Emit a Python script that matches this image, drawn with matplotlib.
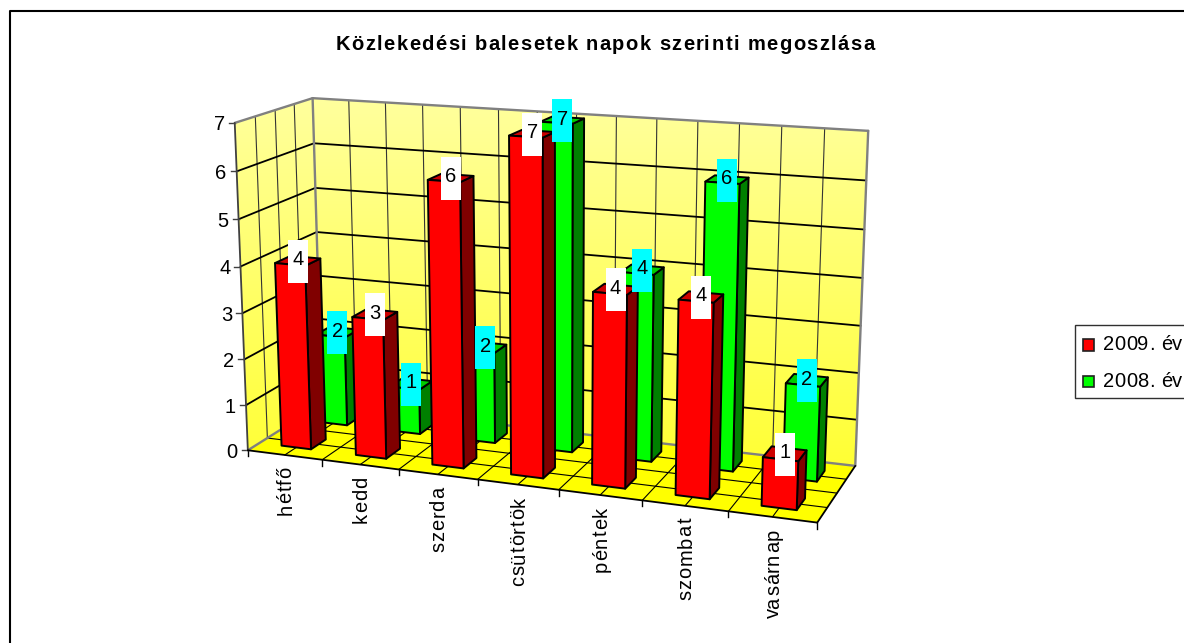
import numpy as np
import matplotlib
matplotlib.use("Agg")
import matplotlib.pyplot as plt
from matplotlib.patches import Polygon, Rectangle
from matplotlib.text import Text
from matplotlib.transforms import Bbox

# ------------------------- Data ------------------------- #
title = "Közlekedési balesetek napok szerinti megoszlása"
days = ["hétfő", "kedd", "szerda", "csütörtök", "péntek", "szombat", "vasárnap"]
values_2009 = [4, 3, 6, 7, 4, 4, 1]
values_2008 = [2, 1, 2, 7, 4, 6, 2]
series_names = ["2009. év", "2008. év"]
y_ticks = [0, 1, 2, 3, 4, 5, 6, 7]

plt.rcParams["font.family"] = ["Liberation Sans", "DejaVu Sans"]

W, H = 1184, 643
fig = plt.figure(figsize=(W / 100, H / 100), dpi=100)
ax = fig.add_axes([0, 0, 1, 1])
ax.set_xlim(0, W)
ax.set_ylim(H, 0)
ax.axis("off")

# ------------------------- 3D projection ------------------------- #
# (category, depth, value) -> position in the picture, used to fit the camera
n_cat = len(days)
n_depth = 2
z_max = y_ticks[-1]
calib_3d = [(0, 0, 0), (1, 0, 0), (2, 0, 0), (3, 0, 0), (4, 0, 0), (5, 0, 0), (6, 0, 0), (7, 0, 0),
            (0, 2, 0), (7, 2, 0), (0, 0, 7), (0, 2, 7), (7, 2, 7),
            (3.3, .3, 0), (3.3, .3, 7), (2.3, .3, 0), (2.3, .3, 6), (5.3, .3, 0), (5.3, .3, 4),
            (6.3, .3, 0), (6.3, .3, 1), (.3, .3, 0), (.3, .3, 4), (5.3, 1.3, 6), (6.3, 1.3, 2)]
calib_px = [(248, 449.5), (322, 459), (398, 469.3), (477.7, 480), (559, 490), (643, 501.7),
            (728.7, 511.7), (817, 523.5),
            (322, 405), (855, 465), (235, 122.7), (312.7, 97.3), (869, 130.7),
            (510.7, 474.3), (509, 135), (432.7, 465), (427, 181), (675.7, 493.3), (677.3, 299.3),
            (761.7, 505), (764, 456.7), (281, 445.7), (276, 263), (705, 183), (785, 383.3)]


def fit_camera(pts3, pts2):
    rows, rhs = [], []
    for (x, y, z), (u, v) in zip(pts3, pts2):
        rows.append([x, y, z, 1, 0, 0, 0, 0, -u * x, -u * y, -u * z])
        rows.append([0, 0, 0, 0, x, y, z, 1, -v * x, -v * y, -v * z])
        rhs += [u, v]
    p = np.linalg.lstsq(np.array(rows, float), np.array(rhs, float), rcond=None)[0]
    return np.append(p, 1).reshape(3, 4)


CAM = fit_camera(calib_3d, calib_px)


def proj(x, y, z):
    u, v, w = CAM @ np.array([x, y, z, 1.0])
    return u / w, v / w


def line3(a, b, color="black", lw=1.0, zorder=3):
    pa, pb = proj(*a), proj(*b)
    ax.plot([pa[0], pb[0]], [pa[1], pb[1]], color=color, lw=lw, zorder=zorder,
            solid_capstyle="round")


def face(points, color, zorder):
    ax.add_patch(Polygon([proj(*p) for p in points], closed=True, facecolor=color,
                         edgecolor="black", lw=1.4, joinstyle="round", zorder=zorder))


# ------------------------- Letter spaced text ------------------------- #
class SpacedText(Text):
    """One text artist that draws its string with extra room between the letters."""

    def __init__(self, x, y, text, spacing=0.0, **kw):
        super().__init__(x, y, text, ha="left", va="baseline", rotation_mode="anchor", **kw)
        self.spacing = spacing

    def _width(self, renderer, s):
        prop = self.get_fontproperties()
        return (renderer.get_text_width_height_descent(s + ".", prop, False)[0]
                - renderer.get_text_width_height_descent(".", prop, False)[0])

    def total_length(self, renderer):
        full = self.get_text()
        return self._width(renderer, full) + self.spacing * (len(full) - 1)

    def get_window_extent(self, renderer=None, dpi=None):
        bb = super().get_window_extent(renderer, dpi)
        extra = self.spacing * (len(self.get_text()) - 1)
        if self.get_rotation() == 90:
            return Bbox.from_extents(bb.x0, bb.y0, bb.x1, bb.y1 + extra)
        return Bbox.from_extents(bb.x0, bb.y0, bb.x1 + extra, bb.y1)

    def draw(self, renderer):
        full = self.get_text()
        x0, y0 = self.get_position()
        up = self.get_rotation() == 90
        for k, ch in enumerate(full):
            off = self._width(renderer, full[:k]) + self.spacing * k
            self.set_text(ch)
            self.set_position((x0, y0 - off) if up else (x0 + off, y0))
            super().draw(renderer)
        self.set_text(full)
        self.set_position((x0, y0))


def spaced(x, y, s, spacing, align="left", **kw):
    # the anchor is turned into the start of the string, so the extent stays where the text is
    t = SpacedText(x, y, s, spacing=spacing, color="black", **kw)
    ax.add_artist(t)
    length = t.total_length(fig.canvas.get_renderer())
    if align == "center":
        t.set_position((x - length / 2, y))
    elif align == "top":
        t.set_position((x, y + length))
    return t


# ------------------------- Walls and floor ------------------------- #
back_wall = [(0, n_depth, 0), (n_cat, n_depth, 0), (n_cat, n_depth, z_max), (0, n_depth, z_max)]
side_wall = [(0, 0, 0), (0, n_depth, 0), (0, n_depth, z_max), (0, 0, z_max)]
floor = [(0, 0, 0), (n_cat, 0, 0), (n_cat, n_depth, 0), (0, n_depth, 0)]

grad = np.zeros((256, 1, 3))
grad[:, 0, 0] = 1
grad[:, 0, 1] = 1
grad[:, 0, 2] = np.linspace(0.62, 0.2, 256)
for wall in (back_wall, side_wall):
    im = ax.imshow(grad, extent=(220, 880, 470, 95), aspect="auto", zorder=1)
    clip = Polygon([proj(*p) for p in wall], closed=True, transform=ax.transData)
    im.set_clip_path(clip)
ax.set_xlim(0, W)
ax.set_ylim(H, 0)
ax.add_patch(Polygon([proj(*p) for p in floor], closed=True, facecolor="#FFFF00",
                     edgecolor="none", zorder=1))

# gridlines: every half category, every half depth slot, every value
for x in np.arange(0.5, n_cat, 0.5):
    line3((x, n_depth, 0), (x, n_depth, z_max), color="#333333", lw=0.8)
    line3((x, 0, 0), (x, n_depth, 0), lw=0.8)
for d in np.arange(0.5, n_depth, 0.5):
    line3((0, d, 0), (0, d, z_max), color="#333333", lw=0.8)
    line3((0, d, 0), (n_cat, d, 0), lw=0.8)
for v in y_ticks[1:-1]:
    line3((0, 0, v), (0, n_depth, v), lw=1.3)
    line3((0, n_depth, v), (n_cat, n_depth, v), lw=1.3)

# wall outlines
grey = "#808080"
for a, b in [((0, 0, z_max), (0, n_depth, z_max)),
             ((0, n_depth, z_max), (n_cat, n_depth, z_max)),
             ((0, n_depth, 0), (0, n_depth, z_max)),
             ((n_cat, n_depth, 0), (n_cat, n_depth, z_max)),
             ((0, 0, 0), (0, n_depth, 0)),
             ((0, n_depth, 0), (n_cat, n_depth, 0))]:
    line3(a, b, color=grey, lw=1.7, zorder=3.5)
line3((0, 0, 0), (0, 0, z_max), color="#404040", lw=1.3, zorder=3.5)
line3((0, 0, 0), (n_cat, 0, 0), lw=1.3, zorder=3.5)
line3((n_cat, 0, 0), (n_cat, n_depth, 0), lw=1.3, zorder=3.5)

# ------------------------- Axis ticks and labels ------------------------- #
for v in y_ticks:
    px, py = proj(0, 0, v)
    ax.plot([px - 6, px], [py, py], color="#404040", lw=1.0, zorder=3)
    ax.text(px - 10, py, str(v), ha="right", va="center_baseline", fontsize=14.5, color="black")

for i in range(n_cat + 1):
    px, py = proj(i, 0, 0)
    ax.plot([px, px], [py, py + 6], color="black", lw=1.0, zorder=3)

for i, day in enumerate(days):
    px, py = proj(i + 0.5, 0, 0)
    spaced(px + 6.5, py + 12, day, 0.9, align="top", rotation=90, fontsize=14.5)


# ------------------------- Bars ------------------------- #
def draw_bar(cat, slot, value, front, side, top, zorder):
    x0, x1 = cat + 0.3, cat + 0.7
    y0, y1 = slot + 0.3, slot + 0.7
    face([(x1, y0, 0), (x1, y1, 0), (x1, y1, value), (x1, y0, value)], side, zorder)
    face([(x0, y0, value), (x1, y0, value), (x1, y1, value), (x0, y1, value)], top, zorder)
    face([(x0, y0, 0), (x1, y0, 0), (x1, y0, value), (x0, y0, value)], front, zorder)


def draw_label(cat, slot, value, bg):
    px, py = proj(cat + 0.5, slot + 0.5, value)
    ax.add_patch(Rectangle((px - 10, py - 21), 20, 43, facecolor=bg, edgecolor="none", zorder=20))
    ax.text(px, py - 3, str(value), ha="center", va="center_baseline", fontsize=14.5,
            color="black", zorder=21)


for i, v in enumerate(values_2008):
    draw_bar(i, 1, v, "#00FF00", "#008000", "#00CC00", 5 + i * 0.01)
for i, v in enumerate(values_2009):
    draw_bar(i, 0, v, "#FF0000", "#800000", "#CC0000", 6 + i * 0.01)
for i, v in enumerate(values_2008):
    draw_label(i, 1, v, "#00FFFF")
for i, v in enumerate(values_2009):
    draw_label(i, 0, v, "#FFFFFF")

# ------------------------- Title, legend, frame ------------------------- #
spaced(605, 50, title, 1.4, align="center", fontsize=14.5, fontweight="bold")

ax.add_patch(Rectangle((1074.5, 325), 130, 73, facecolor="white", edgecolor="#303030", lw=1.0,
                       zorder=2))
ax.add_patch(Rectangle((1082.5, 339), 11.5, 11.5, facecolor="#FF0000", edgecolor="#202020", lw=1.2,
                       zorder=3))
ax.add_patch(Rectangle((1082.5, 375.5), 11.5, 11.5, facecolor="#00FF00", edgecolor="#202020", lw=1.2,
                       zorder=3))
spaced(1103, 350.5, series_names[0], 0.3, fontsize=14.5, zorder=4)
spaced(1103, 387, series_names[1], 0.3, fontsize=14.5, zorder=4)

ax.plot([9.5, 9.5, W + 5], [H + 5, 10.5, 10.5], color="black", lw=1.5, zorder=30)

fig.savefig("out.png", dpi=100)
